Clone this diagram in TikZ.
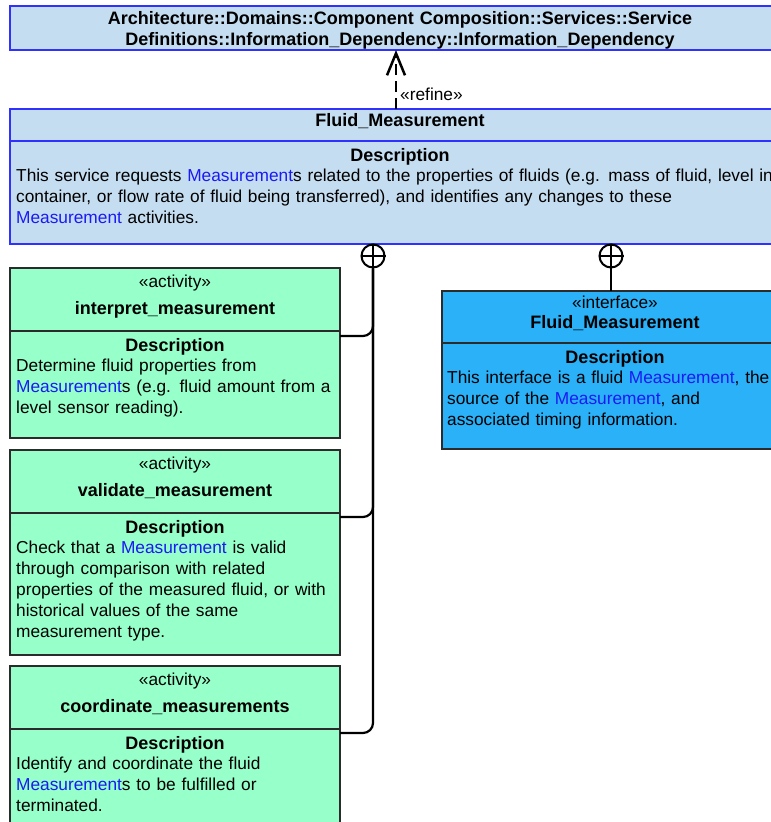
\documentclass[tikz,border=0pt]{standalone}
\usepackage{fontspec}
\setmainfont{Liberation Sans}
\usetikzlibrary{arrows.meta}

\definecolor{paleblue}{HTML}{C5DDF1}
\definecolor{edgeblue}{HTML}{3030FF}
\definecolor{mint}{HTML}{97FFC9}
\definecolor{skyblue}{HTML}{2AB1F7}
\definecolor{linkblue}{HTML}{1A1AF5}
\definecolor{darkedge}{HTML}{2B2B2B}

\newcommand\lnk[1]{\textcolor{linkblue}{#1}}
\newcommand\txtsize{\fontsize{17.3}{21}\selectfont}
\newcommand\headsize{\fontsize{18}{21}\selectfont\bfseries}

% one activity class box: name, top edge, height, title, description body
\newcommand\umlactivity[5]{%
  \node[activitybox, minimum height=#3] (#1) at (10,#2) {};
  \draw[darksep] ([yshift=-63pt]#1.north west) -- ([yshift=-63pt]#1.north east);
  \node[ctext] (#1-st) at ([yshift=-19.5pt]#1.north) {«activity»};
  \node[ctext, font=\headsize] (#1-nm) at ([yshift=-46pt]#1.north) {#4};
  \node[ctext, font=\headsize] (#1-dh) at ([yshift=-83pt]#1.north) {Description};
  \node[ltext] (#1-bd) at ([xshift=6pt,yshift=-103.5pt]#1.north west) {#5};
}

\begin{document}
\begin{tikzpicture}[x=1pt,y=-1pt,
  box/.style={rectangle, anchor=north west, inner sep=0pt, outer sep=0pt},
  svcbox/.style={box, draw=edgeblue, fill=paleblue, line width=2pt, minimum width=780pt},
  activitybox/.style={box, draw=darkedge, fill=mint, line width=1.2pt, minimum width=330pt},
  ifbox/.style={box, draw=darkedge, fill=skyblue, line width=1.5pt, minimum width=346pt},
  bluesep/.style={draw=edgeblue, line width=2pt},
  darksep/.style={draw=darkedge, line width=1.2pt},
  ctext/.style={inner sep=0pt, font=\txtsize, text width=330pt, align=center, anchor=base},
  ltext/.style={inner sep=0pt, font=\txtsize, text width=900pt, align=left, anchor=base west},
  conn/.style={draw=black, line width=2.2pt, rounded corners=10pt},
  owner/.style={circle, draw=black, line width=2pt, minimum size=23pt, inner sep=0pt, fill=white},
  dep/.style={draw=black, line width=2.5pt, dash pattern=on 11pt off 6pt,
    -{Straight Barb[length=22pt, width=18pt]}}
]
\clip (0,0) rectangle (771,822);

% ---- service definition referenced by the refinement ----
\node[svcbox, minimum height=44pt] (hdr) at (10,6) {};
\node[ctext, text width=780pt, font=\headsize] (hdr-t) at ([yshift=-18pt]hdr.north)
  {Architecture::Domains::Component Composition::Services::Service\\
   Definitions::Information\_Dependency::Information\_Dependency};

% ---- Fluid_Measurement service ----
\node[svcbox, minimum height=135pt] (fm) at (10,109) {};
\draw[bluesep] ([yshift=-32pt]fm.north west) -- ([yshift=-32pt]fm.north east);
\node[ctext, font=\headsize] (fm-nm) at ([yshift=-17pt]fm.north) {Fluid\_Measurement};
\node[ctext, font=\headsize] (fm-dh) at ([yshift=-52pt]fm.north) {Description};
\node[ltext] (fm-bd) at ([xshift=6pt,yshift=-72pt]fm.north west)
  {This service requests \lnk{Measurement}s related to the properties of fluids (e.g. mass of fluid, level in\\
   container, or flow rate of fluid being transferred), and identifies any changes to these\\
   \lnk{Measurement} activities.};

% refinement dependency
\coordinate (refx) at (396,0);
\draw[dep] (fm.north -| refx) -- (hdr.south -| refx);
\node[inner sep=0pt, font=\txtsize, anchor=base west] (ref-lbl) at (400,100) {«refine»};

% ---- owned activities ----
\umlactivity{ia}{268}{170pt}{interpret\_measurement}
  {Determine fluid properties from\\
   \lnk{Measurement}s (e.g. fluid amount from a\\
   level sensor reading).}
\umlactivity{va}{450}{205pt}{validate\_measurement}
  {Check that a \lnk{Measurement} is valid\\
   through comparison with related\\
   properties of the measured fluid, or with\\
   historical values of the same\\
   measurement type.}
\umlactivity{ca}{666}{175pt}{coordinate\_measurements}
  {Identify and coordinate the fluid\\
   \lnk{Measurement}s to be fulfilled or\\
   terminated.}

% ---- provided interface ----
\node[ifbox, minimum height=158pt] (ifc) at (442,291) {};
\draw[darksep, line width=1.5pt] ([yshift=-52pt]ifc.north west) -- ([yshift=-52pt]ifc.north east);
\node[ctext] (ifc-st) at ([yshift=-17pt]ifc.north) {«interface»};
\node[ctext, font=\headsize] (ifc-nm) at ([yshift=-37pt]ifc.north) {Fluid\_Measurement};
\node[ctext, font=\headsize] (ifc-dh) at ([yshift=-72pt]ifc.north) {Description};
\node[ltext] (ifc-bd) at ([xshift=5pt,yshift=-92pt]ifc.north west)
  {This interface is a fluid \lnk{Measurement}, the\\
   source of the \lnk{Measurement}, and\\
   associated timing information.};

% ---- containment (owner) connectors ----
\node[owner] (own1) at (373,256) {};
\node[owner] (own2) at (611,256) {};
\draw[line width=2pt] (own1.north) -- (own1.south) (own1.west) -- (own1.east);
\draw[line width=2pt] (own2.north) -- (own2.south) (own2.west) -- (own2.east);

\draw[conn] ([yshift=-68pt]ia.north east) -| (own1.south);
\draw[conn] ([yshift=-67pt]va.north east) -| (own1.south);
\draw[conn] ([yshift=-67pt]ca.north east) -| (own1.south);
\draw[conn] (own2.south) -- (own2.south |- ifc.north);
\end{tikzpicture}
\end{document}
